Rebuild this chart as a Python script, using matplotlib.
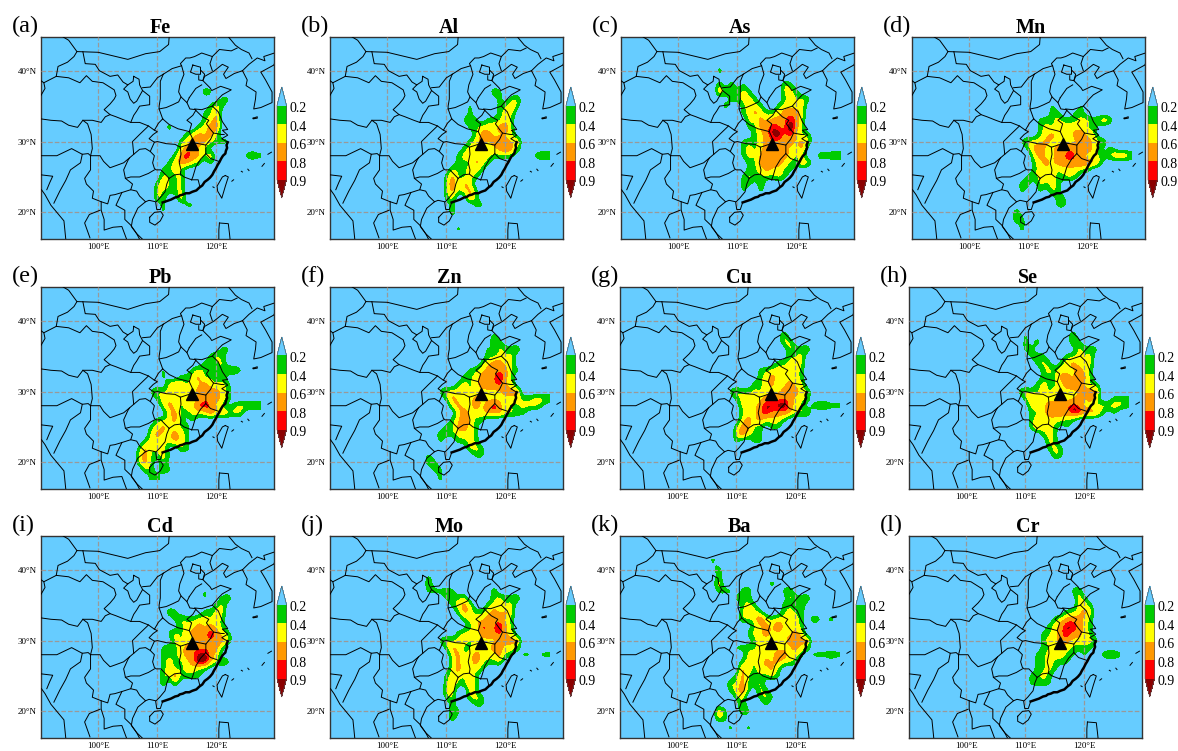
import numpy as np
import matplotlib
matplotlib.use('Agg')
import matplotlib.pyplot as plt
from matplotlib.colors import ListedColormap, BoundaryNorm

plt.rcParams['font.family'] = ['Liberation Serif', 'DejaVu Serif']

W, H = 1178, 751

# grid of the fields: digits are classes
GRID_LON = list(range(104, 128))
GRID_LAT = list(range(41, 17, -1))
CLASS_VALUES = [0.0, 0.34, 0.52, 0.76, 0.95, 1.08]

FE = ["", "", "", "",
      "000000 000000 002100", "000000 000000 000001 1", "000000 000000 000121", "000000 000000 001130",
      "000000 000000 001230", "000000 002000 012340", "000000 000001 232310", "000000 000012 333211 100010",
      "000000 000023 321000", "000000 000134 331300 000121", "000000 001233 210100", "000000 011210",
      "000000 021120", "000000 131120", "000000 211120", "000000 210030",
      "000000 010001 1", "000000 010000", "", ""]
AL = ["", "", "", "",
      "000000 000000 002100", "000000 000100 000101 2", "000000 000010 000113 1", "000000 000010 000122",
      "000000 000111 011121 010010", "000000 000011 222341", "000000 000001 332222", "000000 000012 323332 3",
      "000001 000122 222343 1", "000000 001222 221111 010122", "000000 001113 21", "000000 021122 1",
      "000000 131121", "000000 141320", "000000 131231", "000000 120031",
      "000000 010001 1", "000000 020000", "", "000000 001000"]
AS = ["000000 0", "000200", "", "000202 010000 002100",
      "000311 121000 002210", "000001 122100 001212 1", "000020 012210 012222", "000000 012321 123332",
      "000000 002132 333431 001", "000000 001133 433531", "000000 000123 453421 1", "000000 011123 332323 201",
      "000000 012123 333223", "000000 012133 333211 002122", "000000 001133 332113 2", "000000 001123 221100",
      "000000 012111 121", "000000 011020", "000000 010010", "",
      "", "", "", ""]
MN = ["", "", "", "000100",
      "000000 000000 000100", "", "000000 000010 000100", "000000 000011 001100",
      "000000 001112 111221 231010", "000000 001212 222211", "000000 001232 223322", "000001 222322 222332 21",
      "000000 133223 333342 101", "000000 023223 343312 112332", "000000 012323 333433 2", "000000 012221 222110",
      "000000 112221 121", "000002 102121", "000001 001021", "000010 000001 1",
      "000000 000001 1", "000020", "000021", "000001"]
PB = ["", "", "", "",
      "", "000001 000000 000001 1", "000000 000000 000121", "000000 000000 001112",
      "000000 010000 121111 221010", "000000 010011 231111", "000000 002321 223212 1", "000001 212212 233332 1",
      "000000 122212 223332 1", "000000 023212 244321 012222", "000000 002311 222423 222", "000000 112310 1",
      "000001 232211", "000002 322321", "000012 222321", "000131 220021",
      "000231 121000 1", "000231 020000", "000021 021000", "000001 1"]
ZN = ["", "", "", "000000 000000 001",
      "000000 000000 0021", "000000 000000 010211 2", "000000 000000 011212", "000000 000000 123322",
      "000000 010011 233331 100010", "000000 000112 333431", "000000 001212 333422", "000001 222212 222233 3",
      "000000 132123 222222 211222", "000000 023223 234311 122210", "000000 002322 233322 11", "000000 012421 1",
      "000000 113321", "000002 112221", "000001 001121", "000000 000022 1",
      "000100 000001 1", "00021", "000011", "000001"]
CU = ["", "", "", "000000 000000 002",
      "000000 000000 0022", "000000 000000 000211 2", "000000 000000 000112", "000000 000000 011222",
      "000000 000011 222221 001010", "000000 000012 322221", "000000 000112 312322", "000001 211212 223332 201",
      "000000 122123 333322 1", "000000 022234 445321 012211", "000000 012234 333312 2", "000000 023232 221",
      "000000 133110 11", "000000 242110", "000000 100110", "",
      "", "", "", ""]
SE = ["", "", "", "000000 100000 002",
      "000010 102000 0021", "000000 110000 000211 1", "000010 011100 011212", "000001 001210 123222",
      "000000 000121 222321 001010", "000000 000111 332331", "000000 001211 233421 1", "000001 211212 222233 3",
      "000000 132222 222323 200111", "000000 022233 334322 122221", "000000 011233 334533 310100", "000000 012222 211",
      "000000 013221 01", "000000 000121", "000000 000021", "000000 000012 1",
      "000000 000002 1", "", "", ""]
CD = ["", "", "", "0001",
      "000000 000000 001", "000000 100000 001001 2", "000000 000000 000012", "000000 002100 001122",
      "000000 000121 122121", "000000 000012 232321", "000000 001212 333432 1", "000000 000212 223333 2",
      "000000 011123 333331", "000000 011123 344320", "000000 012112 355312 1", "000000 012112 211",
      "000000 021411 11", "000000 020200", "", "",
      "", "", "", ""]
MO = ["", "", "0001", "0002 000000 001",
      "000111 110000 002", "000000 111200 001211 2", "000000 012320 012212", "000000 001321 123232",
      "000000 000122 233321 010010", "000000 000012 433431", "000000 001221 333422", "000001 212212 222233 3",
      "000000 132112 223322 1", "000000 023123 222311 011011", "000000 013123 211200", "000000 023222 1",
      "000000 122121", "000000 131131", "000000 220021", "000000 120022 1",
      "000000 010001 1", "000000 021000", "000000 02", ""]
BA = ["001", "0002", "0001", "0003 000000 002",
      "000111 012000 0012", "000000 111000 000211 2", "000010 012100 001112", "000001 013210 001211",
      "000000 021242 122221 021020", "000000 000123 242221", "000000 001223 222232", "000000 000122 222333 3",
      "000000 111122 222232 1", "000000 002212 233221 011121", "000000 012123 232210", "000000 032122 31",
      "000000 131111 21", "000002 131120", "000001 241021", "000000 120012 1",
      "000000 020001", "000310 021", "00021", "000001 001"]
CR = ["", "", "", "",
      "000000 000000 0012", "000000 000000 00021", "000000 000000 000221", "000000 000000 011232",
      "000000 000001 233321", "000000 000012 344321", "000000 000112 343321", "000000 000122 332222 1",
      "000000 000112 221111", "000000 001122 211010 01221", "000000 001121 11", "000000 001121",
      "000000 011210", "000000 011110", "", "",
      "", "", "", ""]

ELEMENTS = ['Fe', 'Al', 'As', 'Mn', 'Pb', 'Zn', 'Cu', 'Se', 'Cd', 'Mo', 'Ba', 'Cr']
FIELDS = [FE, AL, AS, MN, PB, ZN, CU, SE, CD, MO, BA, CR]
LETTERS = ['(a)', '(b)', '(c)', '(d)', '(e)', '(f)', '(g)', '(h)', '(i)', '(j)', '(k)', '(l)']

LEVELS = [0.2, 0.4, 0.6, 0.8, 0.9]
LEVEL_LABELS = ['0.2', '0.4', '0.6', '0.8', '0.9']
SEA = '#66CCFF'
COLORS = ['#00CC00', '#FFFF00', '#FF9900', '#FF0000']
OVER = '#8B0000'

SITE = (115.9, 29.65)

# coast, borders (lon, lat)
COAST = [
    [(124.4, 40.0), (123.0, 39.6), (121.6, 38.9), (121.2, 39.5), (122.0, 40.5), (121.0, 40.9), (119.5, 39.9),
     (118.0, 39.2), (117.7, 38.6), (118.9, 37.6), (119.2, 37.2), (120.7, 37.8), (122.5, 37.3), (121.0, 36.6),
     (120.3, 36.0), (119.3, 35.0), (120.3, 34.2), (121.0, 32.8), (121.9, 31.7), (121.0, 31.6), (121.9, 30.9),
     (120.9, 30.4), (121.9, 29.9)],
    [(110.9, 21.4), (110.5, 20.4), (109.9, 20.4), (109.7, 21.5), (108.6, 21.7), (108.0, 21.5), (106.7, 20.6),
     (105.8, 19.0), (105.6, 18.0), (106.5, 17.0), (107.5, 16.2)],
    [(129.8, 41.0), (129.7, 40.8), (127.5, 39.8), (128.3, 38.7), (129.4, 37.0), (129.4, 35.5), (127.5, 34.8),
     (126.3, 34.6), (126.6, 36.0), (126.7, 37.0), (125.0, 37.9), (125.2, 38.7), (124.4, 40.0)],
    [(108.7, 19.3), (109.5, 20.0), (110.6, 20.1), (111.0, 19.6), (110.5, 18.8), (109.6, 18.2), (108.7, 18.6), (108.7, 19.3)],
    [(121.5, 25.2), (122.0, 25.0), (121.5, 23.7), (120.9, 22.0), (120.2, 23.0), (120.1, 23.7), (121.0, 25.0), (121.5, 25.2)],
    [(120.5, 18.5), (122.0, 18.4), (122.2, 17.0), (122.3, 16.2)],
    [(120.4, 16.2), (120.4, 17.5), (120.5, 18.5)],
    [(126.2, 33.3), (126.9, 33.5), (126.9, 33.3), (126.2, 33.2), (126.2, 33.3)],
    [(90.4, 23.2), (91.0, 22.5), (92.0, 21.0), (93.0, 20.0), (94.2, 18.8), (94.5, 16.3)],
    [(124.2, 25.8), (124.4, 25.7)], [(125.3, 26.1), (125.5, 25.9)], [(127.7, 26.5), (128.1, 26.9)],
    [(122.6, 24.4), (122.9, 24.6)], [(119.4, 23.6), (119.6, 23.5)], [(128.7, 28.2), (129.3, 28.5)],
]
# Zhejiang to Guangdong, drawn heavy
COAST_SOUTH = [(121.9, 29.9), (121.7, 29.5), (121.8, 29.1), (121.6, 28.7), (121.5, 28.3), (121.1, 28.0),
               (120.8, 27.6), (120.5, 27.1), (120.2, 26.7), (119.9, 26.2), (119.6, 25.8),
               (119.3, 25.3), (118.9, 24.9), (118.5, 24.6), (118.0, 24.3), (117.6, 23.8),
               (117.1, 23.5), (116.6, 23.1), (115.9, 22.9), (115.4, 22.7), (114.8, 22.7),
               (114.3, 22.5), (113.8, 22.4), (113.5, 22.2), (113.0, 22.1), (112.3, 21.8), (111.6, 21.6), (110.9, 21.4)]

BORDERS = [
    # outer border, north
    [(94.0, 44.8), (95.0, 44.3), (96.4, 42.7), (100.0, 42.6), (105.0, 41.6), (108.0, 42.4), (110.4, 42.7), (111.9, 43.7), (112.0, 44.8)],
    # Xinjiang, Qinghai, Gansu
    [(96.4, 42.7), (95.9, 42.0), (94.8, 41.2), (93.2, 40.6), (92.9, 39.2), (90.8, 38.3), (90.3, 38.6)],
    [(90.8, 38.3), (91.0, 37.5), (90.3, 36.5)],
    [(97.4, 42.7), (97.8, 41.0), (99.5, 40.9), (100.2, 40.0), (102.0, 39.2), (103.3, 39.4), (104.2, 38.4), (105.0, 38.0)],
    [(92.9, 39.2), (95.0, 39.0), (96.9, 38.3), (98.0, 39.3), (99.0, 38.5), (100.8, 38.3), (102.7, 37.3), (103.0, 36.5), (102.7, 36.0),
     (102.0, 35.3), (101.0, 34.5), (102.0, 33.8), (103.0, 33.5), (104.5, 33.0), (105.5, 32.7)],
    [(90.3, 33.2), (92.0, 33.0), (93.8, 32.9), (95.0, 32.3), (96.5, 32.0), (97.4, 33.0), (99.0, 33.0), (100.5, 32.7), (101.2, 33.5), (102.0, 33.8)],
    # Xizang, Sichuan, Yunnan
    [(97.4, 33.0), (98.2, 32.5), (98.8, 31.0), (99.0, 29.0), (98.7, 28.0), (99.5, 28.0), (100.3, 28.0), (100.9, 27.2), (102.0, 26.3),
     (103.0, 26.6), (104.3, 27.0), (105.3, 27.7), (106.0, 28.2), (107.0, 28.9), (108.0, 29.0), (108.8, 28.6)],
    [(98.7, 28.0), (98.3, 28.3), (97.3, 28.2), (95.5, 29.0), (93.0, 28.0), (91.5, 28.0), (90.3, 28.0)],
    [(97.3, 28.2), (97.0, 27.0), (95.3, 26.0), (94.5, 24.5), (93.5, 23.0), (92.5, 21.3)],
    [(90.3, 25.3), (92.3, 25.1), (91.8, 24.2), (91.3, 23.2)],
    # south border
    [(108.0, 21.5), (107.0, 22.3), (106.5, 23.0), (105.5, 23.2), (104.0, 22.8), (102.8, 22.5), (102.0, 22.4), (101.6, 21.2), (100.5, 21.5),
     (99.0, 22.0), (99.2, 23.0), (98.0, 24.0), (97.7, 24.8), (98.7, 26.0), (98.7, 28.0)],
    [(104.0, 22.8), (103.0, 21.0), (104.5, 20.3), (104.5, 19.0), (105.5, 18.2), (106.5, 17.0), (107.0, 16.2)],
    [(100.5, 21.5), (100.5, 20.3), (101.0, 19.0), (101.0, 17.5), (102.5, 17.9), (104.0, 18.0), (104.8, 16.2)],
    [(100.3, 20.3), (98.5, 19.7), (97.7, 18.5), (98.6, 16.4)],
    # northeast
    [(122.0, 44.8), (123.2, 43.6), (124.2, 43.0), (125.5, 42.5), (126.0, 41.7)],
    [(124.4, 40.0), (125.5, 40.9), (126.9, 41.8), (128.2, 41.4), (128.0, 42.0), (129.8, 42.5)],
    [(119.3, 40.0), (118.9, 41.0), (119.3, 42.0), (120.5, 43.0), (122.5, 42.8), (123.5, 43.2)],
    [(119.3, 42.0), (117.5, 42.5), (116.3, 42.0), (115.5, 41.8), (114.8, 41.8), (113.9, 41.0), (114.1, 40.7), (112.5, 40.3), (111.0, 39.5)],
    # Shanxi, Hebei, Henan
    [(114.1, 40.7), (114.5, 39.5), (113.8, 38.0), (113.6, 37.0), (114.0, 36.3)],
    [(111.0, 39.5), (110.5, 38.5), (110.5, 37.5), (110.5, 36.0), (110.3, 35.0), (110.3, 34.6), (110.9, 33.2)],
    [(110.3, 34.6), (111.5, 34.8), (112.6, 35.2), (113.6, 35.6), (114.0, 36.3), (115.0, 35.5), (115.5, 34.6), (116.5, 34.5)],
    [(115.4, 36.2), (116.5, 37.5), (117.5, 38.0)],
    [(115.0, 35.5), (115.4, 36.2)],
    # Ningxia, Shaanxi
    [(106.0, 39.2), (106.9, 38.8), (107.0, 38.0), (107.5, 37.2), (106.7, 36.0), (106.5, 35.7), (106.0, 35.4), (105.4, 36.0), (105.0, 37.0),
     (104.3, 37.4), (105.0, 38.0), (105.9, 38.5), (106.0, 39.2)],
    [(107.5, 37.6), (108.8, 37.7), (110.0, 39.0), (111.0, 39.5)],
    [(107.5, 37.2), (108.7, 36.4), (108.7, 35.2), (107.0, 35.0), (106.5, 34.3), (106.0, 33.7), (105.5, 32.7), (107.0, 32.7), (108.5, 32.2),
     (109.5, 31.6), (110.2, 32.6), (110.9, 33.2)],
    # Beijing, Tianjin
    [(116.0, 40.8), (117.3, 40.5), (117.3, 39.5), (116.5, 39.5), (115.6, 39.8), (116.0, 40.8)],
    [(117.3, 40.1), (118.0, 39.5), (117.7, 38.6), (117.0, 38.7), (117.0, 39.3)],
    # Hubei, Henan, Anhui, Jiangsu
    [(110.9, 33.2), (112.0, 32.4), (113.5, 31.8), (114.5, 31.6), (115.4, 31.4), (115.8, 32.5), (115.0, 33.0), (116.0, 33.7), (116.5, 34.4)],
    [(116.3, 34.6), (117.5, 34.5), (119.3, 35.0)],
    [(116.5, 34.4), (117.6, 33.5), (118.7, 33.0), (118.3, 32.5), (119.0, 31.7), (119.5, 31.2), (119.0, 30.3), (118.2, 29.5), (117.0, 29.7),
     (116.1, 29.8), (115.9, 30.5), (115.4, 31.4)],
    [(119.5, 31.2), (120.8, 31.0), (121.3, 31.0)],
    # Jiangxi, Hunan, Chongqing
    [(116.1, 29.8), (115.0, 29.5), (113.9, 29.2), (113.0, 29.6), (111.5, 29.7), (110.0, 30.0), (109.5, 29.9), (108.6, 30.4), (109.3, 31.0),
     (110.0, 31.4), (109.5, 31.6)],
    [(113.9, 29.2), (114.0, 28.2), (113.7, 27.0), (114.0, 26.0), (113.9, 25.4)],
    [(118.2, 29.5), (118.2, 28.3), (117.3, 27.5), (116.5, 26.4), (116.0, 25.0), (115.8, 24.6)],
    [(118.2, 28.3), (119.0, 27.6), (120.4, 27.2)],
    [(115.8, 24.6), (116.9, 24.6), (117.2, 23.6)],
    [(115.8, 24.6), (114.5, 25.0), (113.9, 25.4), (112.9, 25.3), (112.0, 24.8)],
    [(112.0, 24.8), (111.4, 25.3), (110.6, 26.0), (109.8, 26.0), (109.5, 26.2), (109.2, 27.0), (109.5, 28.0), (108.8, 28.6), (109.5, 29.9)],
    [(112.0, 24.8), (111.6, 24.0), (111.3, 22.9), (110.4, 22.0), (109.8, 21.5)],
    [(109.5, 26.0), (108.5, 25.5), (107.0, 25.0), (105.5, 25.0), (104.6, 24.8), (104.3, 26.0), (105.0, 27.3), (105.3, 27.7)],
    [(104.6, 24.8), (105.8, 24.0), (105.5, 23.2)],
    [(106.0, 28.2), (105.8, 30.0), (107.0, 31.0), (108.5, 32.2)],
]

# pixel boxes of the panels
LEFTS = [[41, 330, 621, 912], [41, 330, 620, 909], [41, 330, 620, 909]]
TOPS = [37, 287, 536]
PANEL_W, PANEL_H = 233, 202

GRID_EXTENT = [GRID_LON[0] - 0.5, GRID_LON[-1] + 0.5, GRID_LAT[-1] - 0.5, GRID_LAT[0] + 0.5]


def to_grid(rows):
    out = []
    for r in rows:
        digits = r.replace(' ', '').ljust(24, '0')
        out.append([CLASS_VALUES[int(c)] for c in digits])
    return np.array(out)


fig = plt.figure(figsize=(W / 100, H / 100), dpi=100)

for i in range(12):
    row, col = i // 4, i % 4
    L, T = LEFTS[row][col], TOPS[row]
    ax = fig.add_axes([L / W, 1 - (T + PANEL_H) / H, PANEL_W / W, PANEL_H / H], facecolor=SEA)

    cmap = ListedColormap(COLORS)
    cmap.set_under(SEA)
    cmap.set_over(OVER)
    norm = BoundaryNorm(LEVELS, cmap.N)
    im = ax.imshow(to_grid(FIELDS[i]), extent=GRID_EXTENT, origin='upper', aspect='auto', cmap=cmap, norm=norm,
                   interpolation='bicubic', interpolation_stage='data', zorder=1)

    for line in BORDERS + COAST:
        xs, ys = zip(*line)
        ax.plot(xs, ys, color='black', lw=0.7, zorder=3)
    xs, ys = zip(*COAST_SOUTH)
    ax.plot(xs, ys, color='black', lw=1.8, zorder=3)

    ax.plot([SITE[0]], [SITE[1]], marker='^', ms=8, color='black', zorder=5, ls='none')

    ax.set_xlim(90.32, 129.73)
    ax.set_ylim(16.24, 44.76)
    ax.set_xticks([100, 110, 120])
    ax.set_xticklabels(['100°E', '110°E', '120°E'], fontsize=6.5)
    ax.set_yticks([20, 30, 40])
    ax.set_yticklabels(['20°N', '30°N', '40°N'], fontsize=6.5)
    ax.tick_params(length=0, pad=3)
    ax.grid(True, color='#999999', ls='--', lw=0.9, zorder=4)
    ax.set_axisbelow(False)
    for s in ax.spines.values():
        s.set_linewidth(1.0)
        s.set_color('#333333')

    fig.text((L + 119) / W, 1 - (T - 9) / H, ELEMENTS[i], fontsize=14.5, fontweight='bold', ha='center', va='center')
    fig.text((L - 29) / W, 1 - (T - 11) / H, LETTERS[i], fontsize=17.5, ha='left', va='center')

    cax = fig.add_axes([(L + 236) / W, 1 - (T + 161) / H, 9.5 / W, 111 / H])
    cb = fig.colorbar(im, cax=cax, extend='both', extendfrac=0.25, spacing='uniform')
    cax.invert_yaxis()
    cax.set_yticks([])
    cax.minorticks_off()
    cb.outline.set_linewidth(0.5)
    cb.outline.set_edgecolor('#555555')
    for v, lab in zip(LEVELS, LEVEL_LABELS):
        cax.annotate(lab, xy=(1, v), xycoords=cax.get_yaxis_transform(), xytext=(2.5, -2.5),
                     textcoords='offset points', fontsize=10, va='center', ha='left', annotation_clip=False)

fig.savefig('out.png', dpi=100)
